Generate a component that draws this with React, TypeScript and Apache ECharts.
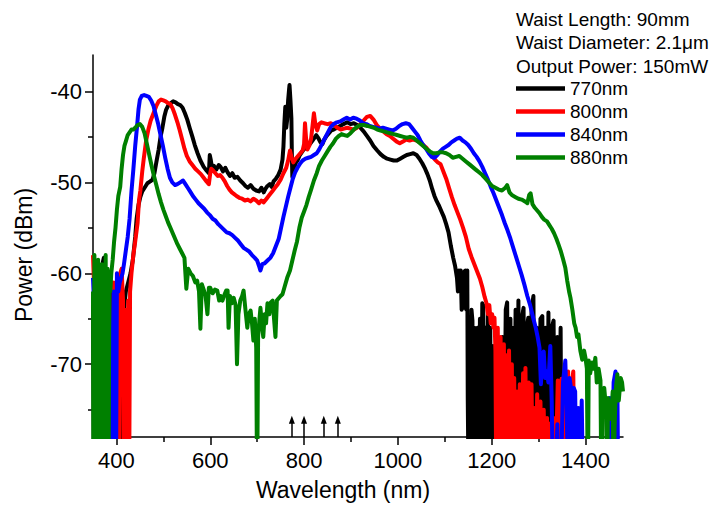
import React, { useEffect, useRef } from "react";
import * as echarts from "echarts";

const FONT = '"Liberation Sans", Arial, Helvetica, sans-serif';

const SERIES_NAMES = ["770nm", "800nm", "840nm", "880nm"];
const SERIES_COLORS = ["#000000", "#ff0000", "#0000ff", "#008000"];
const INFO_LINES = ["Waist Length: 90mm", "Waist Diameter: 2.1\u03bcm", "Output Power: 150mW"];

const WAVELENGTH_TICKS = [400, 600, 800, 1000, 1200, 1400];
const WAVELENGTH_MINOR = [500, 700, 900, 1100, 1300];
const POWER_TICKS = [-70, -60, -50, -40];
const POWER_MINOR = [-75, -65, -55, -45];
const ARROW_NM = [774, 800, 842, 872];

// [wavelength nm, power dBm]
const PUMP_770: number[][] = [
  [350,-63],[352,-85],[355,-61],[358,-85],[361,-60],[364,-85],[367,-62],[370,-59],[373,-58.3],[376,-60.4],[379,-85],[383,-63],[386,-85],[390,-62],[393,-85],[397,-64],[400,-85],[404,-63],[408,-61.5],[409,-85],[413,-85],[416,-64],[420,-62],[425,-61],[430,-60],[435,-58.5],[440,-56],[443,-54],[447,-52.5],[451,-51.6],[455,-51],[460,-50.6],[466,-50.1],[472,-49.9],[477,-49.7],[481,-49],[485,-47.8],[490,-46.4],[494,-45],[498,-44],[502,-42.8],[506,-42],[511,-41.5],[516,-41.3],[521,-41.1],[526,-41.2],[531,-41.4],[536,-41.5],[541,-41.8],[546,-42.4],[551,-43.1],[556,-44],[562,-45],[567,-45.9],[573,-46.8],[579,-47.6],[586,-48.3],[592,-48.7],[597,-49],[599,-47],[601,-47.5],[604,-48.5],[608,-48.2],[613,-48.6],[618,-48.1],[622,-48.3],[627,-48.8],[632,-48.4],[637,-48.9],[642,-49.3],[647,-49],[652,-49.5],[658,-49.4],[664,-49.8],[670,-50.1],[675,-50.4],[680,-50.6],[686,-50.3],[692,-50.7],[698,-50.9],[704,-51],[709,-50.6],[714,-51.1],[718,-50.7],[722,-50.4],[727,-50.2],[731,-50.5],[735,-49.9],[740,-49.6],[745,-49.2],[750,-48.6],[754,-47.5],[756,-46.1],[758,-43.5],[760,-41.7],[762,-44],[764,-43.1],[766,-41],[768,-39.8],[769,-39.3],[771,-41],[773,-43],[774,-47],[775,-49.4],[778,-48.6],[782,-47.9],[787,-47.5],[791,-47],[795,-46.7],[799,-46.4],[804,-46.2],[809,-46],[814,-45.7],[818,-45.4],[822,-45.1],[826,-44.8],[830,-45.1],[835,-45.6],[839,-45.8],[843,-45.3],[848,-44.9],[853,-44.6],[858,-44.3],[863,-44.2],[870,-44],[877,-43.8],[884,-43.6],[892,-43.4],[899,-43.6],[906,-43.5],[913,-43.7],[920,-44],[927,-44.4],[934,-44.9],[941,-45.4],[948,-46],[956,-46.5],[963,-46.9],[970,-47.2],[977,-47.4],[984,-47.5],[991,-47.6],[998,-47.6],[1005,-47.4],[1012,-47.2],[1019,-47],[1026,-46.9],[1033,-46.8],[1040,-47],[1046,-47.4],[1052,-47.9],[1058,-48.5],[1063,-49.1],[1068,-49.8],[1073,-50.7],[1078,-51.5],[1083,-52.1],[1088,-52.6],[1093,-53.2],[1098,-53.8],[1103,-54.6],[1108,-55.5],[1113,-57],[1118,-58.3],[1122,-59.2],[1126,-60.5],[1128,-62],[1130,-59.7],[1132,-61],[1134,-59.7],[1136,-64],[1138,-60],[1140,-63.8],[1142,-59.8],[1144,-59.7],[1146,-64],[1148,-59.7],[1149,-73.7],[1151,-85],[1154,-85],[1157,-64],[1159,-65.2],[1161,-85],[1163,-66],[1165,-85],[1168,-67.4],[1170,-66],[1172,-85],[1175,-65],[1177,-85],[1180,-63.3],[1182,-63.5],[1184,-85],[1187,-66],[1189,-85],[1192,-64.5],[1194,-85],[1197,-66],[1199,-85],[1203,-68],[1206,-85],[1210,-67],[1213,-85],[1218,-68],[1220,-85],[1223,-67],[1226,-85],[1230,-64],[1233,-63.2],[1236,-85],[1240,-65],[1242,-85],[1244,-66],[1247,-85],[1251,-64],[1254,-85],[1257,-63],[1260,-85],[1264,-65],[1268,-63.8],[1271,-85],[1275,-66],[1278,-64.9],[1281,-85],[1285,-64],[1289,-62.5],[1292,-85],[1296,-66],[1299,-85],[1304,-65],[1308,-64.7],[1311,-85],[1315,-66],[1318,-85],[1321,-64.3],[1324,-85],[1328,-66],[1332,-65.2],[1335,-85],[1340,-67],[1343,-85],[1347,-66],[1349,-85],[1352,-85]
];

const PUMP_800: number[][] = [
  [350,-58],[352,-61],[354,-85],[357,-64],[359,-85],[362,-66],[364,-85],[392,-85],[394,-61],[396,-68],[398,-85],[405,-85],[408,-60],[411,-59.5],[414,-63],[416,-85],[419,-85],[421,-64],[423,-85],[425,-63],[427,-85],[429,-62],[432,-60],[436,-58],[440,-56.5],[445,-54.5],[448,-52],[451,-50.9],[455,-48.8],[458,-47.5],[463,-45.5],[468,-44.2],[473,-43.2],[479,-42.4],[485,-41.6],[490,-41.1],[495,-40.9],[500,-41],[505,-41.1],[510,-41.3],[515,-41.4],[520,-41.9],[525,-42.6],[530,-43.4],[535,-44.3],[540,-45.3],[545,-46.3],[550,-47.1],[556,-47.7],[562,-48.1],[568,-48.5],[574,-48.8],[580,-49.1],[586,-49.5],[592,-49.9],[597,-50.2],[600,-49],[602,-48.5],[606,-48.7],[611,-49],[616,-49.3],[621,-49.2],[626,-49.5],[631,-49.9],[636,-50.4],[641,-50.8],[646,-51.1],[651,-51.3],[656,-51.5],[662,-51.7],[668,-51.8],[674,-52],[680,-51.9],[686,-52.1],[692,-51.8],[698,-52],[704,-52.3],[709,-52],[714,-52.2],[720,-51.8],[726,-51.4],[732,-51],[738,-50.6],[744,-50.2],[750,-49.7],[756,-49],[762,-48.4],[766,-47.6],[770,-46.5],[773,-47.2],[777,-47.8],[782,-47.4],[787,-47.1],[792,-46.8],[797,-46.5],[800,-45.8],[802,-43.5],[804,-45],[807,-46.4],[811,-46],[815,-45.2],[818,-43.8],[821,-42.4],[824,-43.6],[828,-44.3],[832,-43.6],[837,-43.4],[843,-43.5],[850,-43.6],[857,-43.5],[864,-43.7],[871,-44],[878,-44.2],[885,-44.1],[892,-44],[899,-44.1],[906,-44.2],[913,-44],[920,-43.6],[927,-43.2],[934,-42.8],[941,-42.7],[948,-43.1],[955,-43.7],[962,-44.1],[969,-44.4],[976,-44.7],[983,-44.9],[990,-45.2],[997,-45.5],[1004,-45.7],[1011,-45.5],[1018,-45.3],[1025,-45.4],[1032,-45.3],[1040,-45.4],[1047,-45.6],[1054,-45.9],[1061,-46.2],[1067,-46.7],[1073,-47.1],[1079,-47.5],[1085,-47.8],[1091,-48],[1097,-48.8],[1103,-49.6],[1109,-50.6],[1115,-51.6],[1121,-52.5],[1127,-53.3],[1133,-54.1],[1139,-55],[1145,-56],[1151,-57.3],[1157,-58.2],[1163,-59],[1169,-59.8],[1175,-60.6],[1180,-61.5],[1185,-62.6],[1189,-63.3],[1192,-64.5],[1195,-63.5],[1198,-65.5],[1201,-64.5],[1204,-66],[1206,-64.9],[1208,-68.5],[1210,-85],[1213,-66],[1216,-85],[1219,-67],[1222,-85],[1226,-67.8],[1229,-85],[1232,-69],[1234,-85],[1237,-68.5],[1240,-85],[1243,-70],[1245,-85],[1248,-71.5],[1251,-85],[1254,-73],[1257,-85],[1260,-72.2],[1263,-85],[1267,-71],[1270,-85],[1272,-70.4],[1275,-85],[1279,-72],[1282,-85],[1285,-72.2],[1288,-85],[1291,-74.8],[1294,-85],[1297,-73.3],[1300,-85],[1304,-74.1],[1307,-85],[1311,-75],[1314,-85],[1318,-75.9],[1321,-85],[1326,-76.5],[1329,-85],[1332,-75.9],[1335,-85],[1341,-71.8],[1344,-85],[1349,-71.6],[1352,-85],[1357,-74.4],[1359,-85],[1363,-70.8],[1366,-85],[1371,-72],[1374,-70.8],[1377,-85],[1381,-74.8],[1384,-85]
];

const PUMP_840: number[][] = [
  [350,-60.5],[352,-63],[354,-85],[357,-62],[359,-85],[390,-85],[392,-68],[394,-62],[396,-85],[399,-85],[401,-60],[404,-62],[407,-61],[410,-60.5],[413,-60],[416,-59],[420,-57.5],[424,-56],[428,-54],[432,-51],[436,-48.6],[440,-46],[444,-43.8],[447,-42],[450,-40.9],[454,-40.5],[459,-40.4],[464,-40.5],[469,-40.6],[474,-41],[479,-41.6],[484,-42.6],[489,-43.6],[494,-44.8],[499,-46],[504,-47.3],[509,-48.5],[514,-49.5],[519,-50],[525,-50.3],[530,-50.2],[536,-50],[542,-49.8],[547,-50.2],[552,-50.6],[557,-51],[563,-51.5],[569,-51.9],[575,-52.3],[581,-52.6],[587,-52.9],[593,-53.3],[599,-53.6],[605,-54],[611,-54.2],[617,-54.6],[623,-54.9],[629,-55.2],[635,-55.5],[641,-55.6],[647,-55.8],[653,-56.1],[659,-56.4],[665,-56.8],[671,-57.2],[677,-57.4],[683,-57.6],[689,-58],[695,-58.3],[700,-58.6],[704,-59.2],[707,-59.7],[711,-59],[716,-58.9],[722,-58.6],[728,-58.3],[734,-57.8],[740,-57],[746,-56.2],[751,-55],[756,-53.8],[761,-52.7],[766,-51.6],[771,-50.6],[776,-49.6],[781,-48.9],[786,-48.4],[792,-47.9],[797,-47.6],[803,-47.4],[809,-47.3],[815,-47.2],[821,-47],[827,-46.8],[832,-46.4],[837,-45.9],[842,-45.4],[847,-44.9],[852,-44.4],[857,-43.9],[863,-43.6],[870,-43.4],[877,-43.3],[884,-43.1],[891,-42.9],[898,-43.1],[905,-42.9],[912,-43],[919,-43.2],[926,-43.5],[933,-43.6],[940,-43.8],[947,-43.9],[954,-44],[961,-44.1],[968,-44],[975,-44.1],[982,-44.2],[989,-44.3],[996,-44.1],[1003,-43.8],[1010,-43.6],[1017,-43.5],[1024,-43.6],[1030,-44],[1036,-44.4],[1042,-44.8],[1048,-45.4],[1054,-45.9],[1060,-46.3],[1066,-46.8],[1072,-47.2],[1078,-47.3],[1084,-47],[1090,-46.6],[1096,-46.3],[1102,-46.1],[1108,-45.9],[1114,-45.6],[1120,-45.4],[1126,-45.2],[1132,-45.1],[1138,-45.4],[1144,-45.6],[1150,-45.9],[1156,-46.3],[1162,-46.8],[1168,-47.2],[1174,-47.7],[1180,-48.3],[1186,-49],[1192,-49.7],[1198,-50.5],[1204,-51.2],[1210,-52],[1216,-52.8],[1222,-53.6],[1228,-54.5],[1234,-55.3],[1240,-56.2],[1246,-57.2],[1252,-58.2],[1258,-59.2],[1264,-60.2],[1270,-61.3],[1276,-62.5],[1282,-63.5],[1288,-64.8],[1294,-66],[1298,-67],[1302,-68.2],[1305,-72.2],[1308,-69],[1311,-68.6],[1314,-71.5],[1318,-70.8],[1321,-72],[1325,-68],[1328,-74],[1331,-85],[1335,-85],[1340,-76.6],[1343,-85],[1347,-85],[1352,-72],[1357,-69.6],[1360,-75],[1363,-85],[1366,-71.5],[1369,-72.6],[1372,-85],[1375,-72.6],[1378,-73],[1381,-85],[1385,-74.8],[1388,-85],[1392,-74],[1395,-85],[1448,-85],[1452,-73.7],[1455,-85],[1460,-72],[1464,-70.8],[1468,-72.2],[1470,-85],[1475,-85]
];

const PUMP_880: number[][] = [
  [350,-62],[351,-85],[353,-58],[355,-85],[357,-60],[359,-85],[361,-58.5],[363,-85],[365,-61],[367,-85],[369,-59],[371,-85],[373,-60],[375,-85],[377,-58],[379,-85],[381,-59.5],[383,-85],[385,-60],[387,-62],[389,-60],[392,-58.5],[395,-56.5],[398,-55],[401,-53],[404,-51.5],[408,-50.5],[411,-48.5],[414,-47],[417,-46],[420,-45.5],[424,-44.8],[428,-44.5],[432,-44.2],[436,-44.2],[440,-44],[445,-43.7],[450,-43.6],[455,-43.9],[460,-44.6],[465,-45.8],[470,-47],[475,-48.2],[480,-49.3],[485,-50.3],[490,-51.3],[495,-52.2],[500,-53],[505,-53.7],[510,-54.4],[515,-55],[520,-55.6],[525,-56.2],[530,-56.8],[535,-57.3],[540,-57.8],[545,-58.3],[549,-61.7],[553,-59.5],[558,-60],[563,-60.3],[568,-61],[572,-60.8],[576,-62],[579,-66.1],[582,-61.2],[586,-61.8],[590,-62.5],[594,-64.5],[597,-61.6],[600,-61.6],[605,-62.2],[610,-61.8],[615,-61.9],[619,-63],[622,-62.5],[626,-63],[630,-62.4],[634,-61.9],[637,-61.9],[639,-66],[642,-62.5],[646,-63.3],[650,-62.7],[654,-63.5],[657,-70],[660,-64.5],[664,-63],[668,-62.5],[671,-61.9],[675,-64],[679,-66],[682,-64.5],[686,-64.1],[689,-65.5],[692,-67.4],[695,-65],[698,-68.2],[700,-85],[702,-67],[705,-65],[707,-63.8],[710,-65.5],[713,-67],[716,-64.5],[719,-65.5],[722,-63.3],[726,-64.5],[729,-63.2],[733,-63],[736,-65],[739,-67],[742,-63],[745,-62.8],[750,-62.5],[754,-62.3],[759,-61.4],[764,-60.5],[770,-59.7],[775,-58.6],[780,-57.5],[785,-56.5],[790,-55],[795,-53.9],[800,-53.2],[805,-52.5],[810,-51.6],[815,-50.8],[821,-49.8],[827,-49],[832,-48.2],[838,-47.6],[844,-47.1],[850,-46.6],[856,-46.1],[862,-45.7],[868,-45.2],[874,-44.9],[880,-44.7],[886,-44.8],[892,-44.9],[899,-44.6],[906,-44.2],[913,-43.9],[920,-43.7],[927,-43.7],[935,-43.8],[942,-43.9],[949,-44],[956,-44.2],[963,-44.3],[970,-44.4],[977,-44.5],[984,-44.6],[991,-44.7],[998,-44.8],[1005,-44.9],[1012,-45],[1019,-45.1],[1026,-45],[1033,-45.1],[1040,-45.4],[1047,-45.7],[1054,-46],[1061,-46.3],[1068,-46.6],[1075,-46.8],[1082,-46.8],[1089,-46.7],[1096,-46.7],[1103,-46.8],[1110,-47],[1117,-47.3],[1124,-47.2],[1131,-47.1],[1138,-47.4],[1145,-47.7],[1152,-48],[1159,-48.3],[1166,-48.6],[1173,-48.9],[1180,-49.2],[1187,-49.6],[1194,-50],[1201,-50.4],[1208,-50.6],[1215,-50.8],[1222,-50.9],[1229,-50.6],[1233,-50.3],[1238,-51.1],[1243,-51.4],[1250,-51.6],[1257,-51.8],[1264,-51.9],[1271,-52.1],[1276,-52.3],[1280,-51.4],[1283,-51.2],[1287,-52.4],[1292,-52.8],[1297,-53.1],[1302,-53.4],[1307,-53.8],[1312,-54.1],[1318,-54.3],[1323,-54.7],[1328,-55.1],[1333,-55.6],[1338,-56.2],[1343,-56.9],[1347,-57.5],[1352,-58.4],[1357,-59.4],[1361,-60.8],[1365,-62],[1368,-62.7],[1372,-64],[1376,-65.5],[1379,-66],[1382,-67],[1385,-66.7],[1389,-68.5],[1393,-69.5],[1397,-68.5],[1400,-69.3],[1403,-70.5],[1405,-85],[1407,-69.6],[1410,-71],[1414,-69.8],[1418,-70.5],[1421,-69.3],[1424,-72],[1428,-70.5],[1432,-71.8],[1434,-85],[1436,-74],[1440,-72.6],[1444,-75],[1446,-85],[1448,-73.7],[1452,-76],[1455,-75.5],[1458,-73],[1460,-85],[1462,-77],[1465,-72.5],[1468,-71.1],[1471,-74],[1475,-71.5],[1478,-72],[1480,-73]
];

const SERIES_DATA = [PUMP_770, PUMP_800, PUMP_840, PUMP_880];

export default function App() {
  const ref = useRef<HTMLDivElement>(null);

  useEffect(() => {
    document.body.style.margin = "0";
    if (!ref.current) return;
    const chart = echarts.init(ref.current, null, { renderer: "svg" });

    const axisLineStyle = { color: "#000", width: 1.5 };

    const series: any[] = SERIES_NAMES.map((name, i) => ({
      name,
      type: "line",
      data: SERIES_DATA[i],
      symbol: "none",
      showSymbol: false,
      clip: true,
      lineStyle: { color: SERIES_COLORS[i], width: 4, join: "round" },
      itemStyle: { color: SERIES_COLORS[i] },
      z: 2 + i,
    }));

    series[0].markLine = {
      silent: true,
      animation: false,
      symbol: ["none", "triangle"],
      symbolSize: [6, 8],
      label: { show: false },
      lineStyle: { color: "#000", width: 1.5, type: "solid" },
      emphasis: { disabled: true },
      data: ARROW_NM.map((v) => [{ coord: [v, -78] }, { coord: [v, -76.1] }]),
    };

    const plain = (v: number) => String(v);

    const option: any = {
      animation: false,
      backgroundColor: "#ffffff",
      textStyle: { fontFamily: FONT },
      grid: {
        left: 93,
        right: 92,
        top: 55,
        bottom: 68,
        containLabel: false,
        outerBoundsMode: "none",
      },
      legend: {
        orient: "vertical",
        left: 516,
        top: 79,
        padding: 0,
        icon: "rect",
        itemWidth: 49,
        itemHeight: 4.5,
        itemGap: 4,
        selectedMode: false,
        data: SERIES_NAMES.map((n, i) => ({ name: n, itemStyle: { color: SERIES_COLORS[i] } })),
        textStyle: { fontSize: 19, color: "#000", fontFamily: FONT, lineHeight: 19 },
      },
      xAxis: [
        {
          type: "value",
          min: 350,
          max: 1480,
          position: "bottom",
          axisLine: { show: true, onZero: false, lineStyle: axisLineStyle },
          axisTick: { show: true, inside: false, length: 8, lineStyle: axisLineStyle, customValues: WAVELENGTH_TICKS },
          axisLabel: { show: true, customValues: WAVELENGTH_TICKS, formatter: plain, fontSize: 22, color: "#000", fontFamily: FONT, margin: 12 },
          splitLine: { show: false },
        },
        {
          type: "value",
          min: 350,
          max: 1480,
          position: "bottom",
          gridIndex: 0,
          axisLine: { show: false, onZero: false },
          axisTick: { show: true, inside: false, length: 5, lineStyle: axisLineStyle, customValues: WAVELENGTH_MINOR },
          axisLabel: { show: false },
          splitLine: { show: false },
        },
      ],
      yAxis: [
        {
          type: "value",
          min: -78,
          max: -36,
          position: "left",
          axisLine: { show: true, onZero: false, lineStyle: axisLineStyle },
          axisTick: { show: true, inside: false, length: 8, lineStyle: axisLineStyle, customValues: POWER_TICKS },
          axisLabel: { show: true, customValues: POWER_TICKS, formatter: plain, fontSize: 22, color: "#000", fontFamily: FONT, margin: 11 },
          splitLine: { show: false },
        },
        {
          type: "value",
          min: -78,
          max: -36,
          position: "left",
          gridIndex: 0,
          axisLine: { show: false, onZero: false },
          axisTick: { show: true, inside: false, length: 5, lineStyle: axisLineStyle, customValues: POWER_MINOR },
          axisLabel: { show: false },
          splitLine: { show: false },
        },
      ],
      graphic: [
        ...INFO_LINES.map((t, i) => ({
          type: "text",
          x: 516,
          y: 19 + i * 23.5,
          silent: true,
          style: { text: t, fill: "#000", fontSize: 19, fontFamily: FONT, align: "left", verticalAlign: "middle" },
        })),
        {
          type: "text",
          x: 343,
          y: 490,
          silent: true,
          style: { text: "Wavelength (nm)", fill: "#000", fontSize: 23, fontFamily: FONT, align: "center", verticalAlign: "middle" },
        },
        {
          type: "text",
          x: 24,
          y: 255,
          rotation: Math.PI / 2,
          silent: true,
          style: { text: "Power (dBm)", fill: "#000", fontSize: 23, fontFamily: FONT, align: "center", verticalAlign: "middle" },
        },
      ],
      series,
    };

    chart.setOption(option);
    return () => {
      chart.dispose();
    };
  }, []);

  return (
    <div
      ref={ref}
      style={{ position: "absolute", left: 0, top: 0, width: 715, height: 505 }}
    />
  );
}
